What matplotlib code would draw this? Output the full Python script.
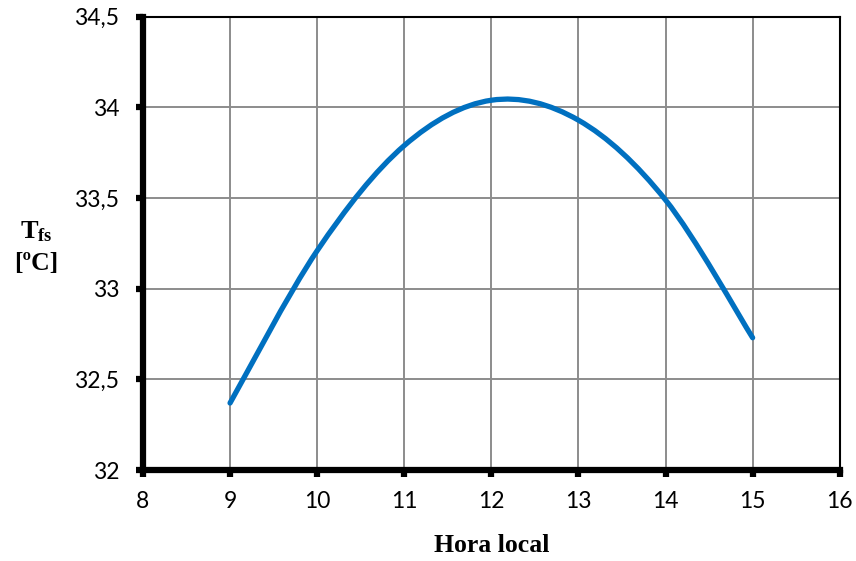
import numpy as np
import matplotlib
matplotlib.use("Agg")
import matplotlib.pyplot as plt
from matplotlib.path import Path
from matplotlib.patches import PathPatch

plt.rcParams["mathtext.fontset"] = "custom"
plt.rcParams["mathtext.rm"] = "Liberation Serif"
plt.rcParams["mathtext.bf"] = "Liberation Serif:bold"

# Hourly surface temperature readings
hours = [9, 10, 11, 12, 13, 14, 15]
temps = [32.37, 33.21, 33.79, 34.04, 33.93, 33.49, 32.73]

x_ticks = [8, 9, 10, 11, 12, 13, 14, 15, 16]
y_ticks = [32, 32.5, 33, 33.5, 34, 34.5]
y_tick_labels = ["32", "32,5", "33", "33,5", "34", "34,5"]


def smooth_path(xs, ys, tension=1 / 6):
    """Cubic Bezier path through the points (Catmull-Rom style smoothing)."""
    pts = np.column_stack([xs, ys]).astype(float)
    n = len(pts)
    verts = [pts[0]]
    codes = [Path.MOVETO]
    for i in range(n - 1):
        p0 = pts[i - 1] if i > 0 else pts[i]
        p1 = pts[i]
        p2 = pts[i + 1]
        p3 = pts[i + 2] if i + 2 < n else pts[i + 1]
        c1 = p1 + (p2 - p0) * tension
        c2 = p2 - (p3 - p1) * tension
        verts += [c1, c2, p2]
        codes += [Path.CURVE4] * 3
    return Path(verts, codes)


fig = plt.figure(figsize=(8.56, 5.61), dpi=100)
ax = fig.add_axes([0.167, 0.162, 0.814, 0.808])

ax.add_patch(PathPatch(smooth_path(hours, temps), facecolor="none",
                       edgecolor="#0070C0", lw=3.8, capstyle="round", zorder=3))

ax.set_xlim(8, 16)
ax.set_ylim(32, 34.5)
ax.set_xticks(x_ticks)
ax.set_yticks(y_ticks)
ax.set_yticklabels(y_tick_labels)

ax.grid(True, color="#8c8c8c", lw=1.4)
ax.set_axisbelow(True)

for side in ["left", "bottom"]:
    ax.spines[side].set_linewidth(4.5)
for side in ["top", "right"]:
    ax.spines[side].set_linewidth(1.5)

ax.tick_params(axis="both", direction="out", length=5, width=4.5,
               labelsize=16.5)
ax.tick_params(axis="y", pad=12)
ax.tick_params(axis="x", pad=10)
for lab in ax.get_xticklabels() + ax.get_yticklabels():
    lab.set_fontfamily("Lato")

fig.text(0.574, 0.028, "Hora local", ha="center", va="center",
         fontfamily="Liberation Serif", fontweight="bold", fontsize=18.5)
fig.text(0.042, 0.588, r"$\mathbf{T_{fs}}$", ha="center", va="center",
         fontsize=19)
fig.text(0.042, 0.53, "[ºC]", ha="center", va="center",
         fontfamily="Liberation Serif", fontweight="bold", fontsize=18.5)

fig.savefig("out.png", dpi=100)
